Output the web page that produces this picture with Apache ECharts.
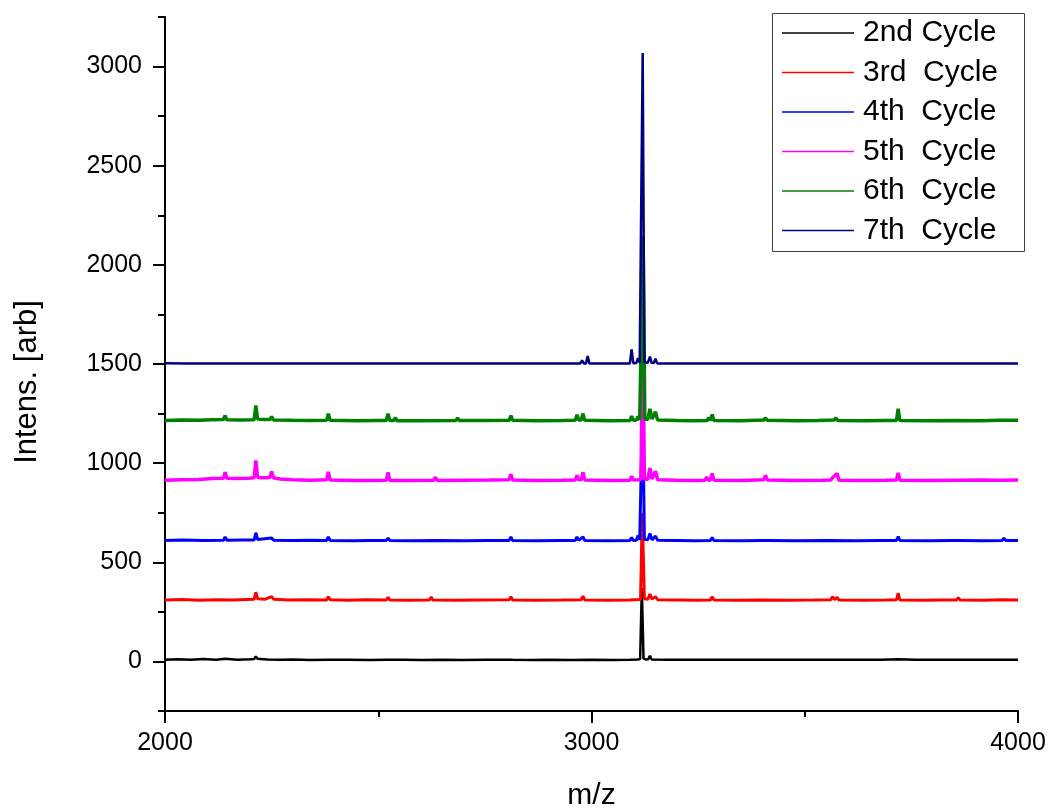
<!DOCTYPE html>
<html>
<head>
<meta charset="utf-8">
<script src="https://cdn.jsdelivr.net/npm/echarts@6/dist/echarts.min.js"></script>
<style>
html,body{margin:0;padding:0;background:#fff;}
#chart{width:1049px;height:810px;}
</style>
</head>
<body>
<div id="chart"></div>
<script>
// Series names (legend labels)
const seriesNames = ['2nd Cycle', '3rd  Cycle', '4th  Cycle', '5th  Cycle', '6th  Cycle', '7th  Cycle'];
// Vertical offset of each stacked spectrum (arb)
const offsets = [0, 300, 600, 900, 1200, 1500];
const colors = ['#000000', '#ff0000', '#0000ff', '#ff00ff', '#008000', '#000080'];

// Raw spectra: [m/z, intensity]
const cycle2 = [[2000,9],[2030,11],[2060,8],[2090,12],[2120,9],[2141,13],[2170,9],[2200,11],[2209,12],[2213,25],[2217,13],[2240,10],[2270,8],[2300,10],[2340,7],[2379,9],[2383,14],[2387,8],[2430,9],[2480,7],[2520,9],[2560,8],[2600,7],[2650,9],[2700,7],[2750,8],[2807,9],[2811,14],[2815,8],[2860,7],[2900,8],[2950,7],[3000,8],[3050,7],[3090,8],[3108,10],[3114,12],[3118,370],[3122,14],[3128,10],[3133,11],[3137,28],[3141,10],[3180,8],[3230,9],[3280,8],[3330,9],[3380,8],[3430,9],[3480,8],[3530,9],[3580,8],[3630,9],[3680,8],[3719,11],[3760,8],[3810,9],[3860,8],[3910,9],[3960,8],[4000,9]];

const cycle3 = [[2000,10],[2040,12],[2080,9],[2120,11],[2160,10],[2190,12],[2209,13],[2213,49],[2217,16],[2235,14],[2250,27],[2255,13],[2290,10],[2330,11],[2379,10],[2383,27],[2387,11],[2430,9],[2470,11],[2519,10],[2523,23],[2527,10],[2570,9],[2620,10],[2624,25],[2628,10],[2680,9],[2740,10],[2807,11],[2811,27],[2815,10],[2870,9],[2930,10],[2976,11],[2980,30],[2984,10],[3040,9],[3090,10],[3110,12],[3115,14],[3119,450],[3124,16],[3132,13],[3137,40],[3142,14],[3150,27],[3155,11],[3200,10],[3250,9],[3279,10],[3283,27],[3287,10],[3340,9],[3400,10],[3460,9],[3520,10],[3561,11],[3565,27],[3570,12],[3576,23],[3580,10],[3640,9],[3690,10],[3715,11],[3719,44],[3723,10],[3780,9],[3820,10],[3856,10],[3860,22],[3864,10],[3920,9],[3960,11],[4000,10]];

const cycle4 = [[2000,10],[2040,12],[2090,10],[2137,11],[2141,28],[2145,11],[2180,12],[2209,12],[2213,49],[2217,15],[2250,22],[2255,11],[2300,10],[2340,11],[2379,10],[2383,28],[2387,10],[2440,9],[2480,10],[2519,10],[2523,22],[2527,10],[2580,9],[2640,10],[2700,9],[2760,10],[2807,10],[2811,28],[2815,10],[2870,9],[2930,10],[2962,10],[2966,28],[2970,11],[2980,28],[2984,10],[3040,9],[3090,10],[3094,25],[3098,10],[3105,11],[3109,35],[3113,12],[3116,14],[3120,706],[3124,16],[3132,13],[3137,45],[3142,13],[3150,32],[3155,11],[3200,10],[3240,9],[3279,10],[3283,25],[3287,10],[3350,9],[3404,10],[3408,18],[3412,10],[3480,9],[3550,10],[3620,9],[3680,10],[3715,10],[3719,30],[3723,10],[3790,9],[3850,10],[3854,20],[3858,10],[3920,9],[3963,10],[3967,22],[3971,10],[4000,10]];

const cycle5 = [[2000,14],[2040,16],[2080,18],[2110,22],[2137,24],[2141,54],[2145,24],[2170,22],[2195,24],[2209,26],[2213,114],[2217,28],[2235,26],[2246,28],[2250,58],[2254,26],[2270,20],[2300,16],[2340,14],[2379,16],[2383,56],[2387,15],[2440,12],[2480,13],[2519,14],[2523,54],[2527,13],[2580,12],[2630,14],[2634,29],[2638,13],[2700,14],[2760,15],[2807,16],[2811,44],[2815,15],[2870,13],[2930,14],[2962,15],[2966,39],[2970,16],[2976,17],[2980,54],[2984,15],[3040,13],[3090,14],[3094,34],[3098,15],[3110,16],[3116,18],[3120,800],[3124,20],[3132,18],[3137,75],[3142,20],[3146,18],[3150,59],[3155,16],[3200,14],[3240,13],[3266,14],[3270,29],[3274,14],[3279,15],[3283,48],[3287,14],[3350,13],[3404,16],[3408,38],[3412,15],[3480,13],[3540,14],[3561,15],[3565,26],[3569,16],[3576,48],[3580,14],[3640,13],[3690,14],[3715,15],[3719,51],[3723,14],[3790,13],[3850,14],[3910,15],[3956,14],[3960,24],[3964,14],[4000,15]];

const cycle6 = [[2000,15],[2040,17],[2080,16],[2110,19],[2137,20],[2141,40],[2145,19],[2180,18],[2209,19],[2213,91],[2217,22],[2235,20],[2246,20],[2250,35],[2254,18],[2300,16],[2340,15],[2379,16],[2383,50],[2387,16],[2450,14],[2500,15],[2519,15],[2523,50],[2527,15],[2536,15],[2540,30],[2544,14],[2600,14],[2682,15],[2686,27],[2690,15],[2750,15],[2807,16],[2811,40],[2815,16],[2870,14],[2930,15],[2962,16],[2966,44],[2970,18],[2976,18],[2980,50],[2984,16],[3040,14],[3090,15],[3094,37],[3098,16],[3105,17],[3109,35],[3113,18],[3117,20],[3121,945],[3125,22],[3132,20],[3137,74],[3142,22],[3146,20],[3150,59],[3155,17],[3200,15],[3240,14],[3271,15],[3275,30],[3279,16],[3283,45],[3287,15],[3350,14],[3404,17],[3408,28],[3412,16],[3480,14],[3530,15],[3569,17],[3573,28],[3577,15],[3640,14],[3690,15],[3715,15],[3719,74],[3723,15],[3790,14],[3850,15],[3910,14],[3960,16],[4000,16]];

const cycle7 = [[2000,4],[2050,3],[2100,2],[2150,3],[2200,2],[2300,2],[2400,3],[2500,2],[2547,2],[2551,12],[2555,2],[2650,2],[2750,3],[2850,2],[2930,2],[2974,3],[2978,19],[2982,3],[2987,3],[2991,40],[2995,3],[3050,2],[3090,3],[3094,73],[3098,4],[3105,5],[3109,30],[3113,6],[3116,8],[3120,1569],[3124,10],[3132,6],[3137,37],[3141,6],[3146,5],[3150,27],[3154,3],[3200,2],[3279,2],[3283,10],[3287,2],[3350,2],[3450,3],[3550,2],[3650,2],[3750,3],[3850,2],[3950,2],[4000,2]];

const spectra = [cycle2, cycle3, cycle4, cycle5, cycle6, cycle7];
const lineWidths = [2.5, 3, 3, 3.5, 3.5, 2.5];

// tick labels
const xTickLabels = [2000, 3000, 4000];
const yMajorTicks = [0, 500, 1000, 1500, 2000, 2500, 3000];

const FONT = 'Liberation Sans, Arial, sans-serif';
const chart = echarts.init(document.getElementById('chart'), null, {renderer: 'canvas'});

const series = spectra.map((d, i) => ({
  name: seriesNames[i],
  type: 'line',
  symbol: 'none',
  showSymbol: false,
  sampling: null,
  animation: false,
  color: colors[i],
  lineStyle: {color: colors[i], width: lineWidths[i]},
  data: d.map(p => [p[0], p[1] + offsets[i]])
}));

chart.setOption({
  animation: false,
  backgroundColor: '#ffffff',
  grid: {left: 165, right: 31, top: 17, bottom: 99, containLabel: false, outerBoundsMode: 'none'},
  legend: {
    orient: 'vertical',
    left: 782, top: 18,
    padding: 0,
    icon: 'rect',
    itemWidth: 72, itemHeight: 1.6, itemGap: 9.5,
    data: seriesNames,
    textStyle: {fontSize: 30, lineHeight: 30, color: '#000', fontFamily: FONT, padding: [0, 0, 0, 4]},
    selectedMode: false
  },
  graphic: [{
    type: 'rect', left: 770, top: 11, silent: true,
    shape: {x: 0, y: 0, width: 252, height: 238},
    style: {fill: 'none', stroke: '#404040', lineWidth: 1}
  }, {
    type: 'text', x: 27, y: 382, rotation: Math.PI / 2, silent: true,
    style: {text: 'Intens. [arb]', fontSize: 31, fontFamily: FONT, fill: '#000', align: 'center', verticalAlign: 'middle'}
  }],
  xAxis: {
    type: 'value', min: 2000, max: 4000, interval: 1000,
    name: 'm/z', nameLocation: 'middle', nameGap: 70,
    nameTextStyle: {fontSize: 30, color: '#000', fontFamily: FONT},
    axisLine: {show: true, onZero: false, lineStyle: {color: '#000', width: 2}},
    axisTick: {show: true, length: 12, lineStyle: {color: '#000', width: 2}},
    minorTick: {show: true, splitNumber: 2, length: 6, lineStyle: {color: '#000', width: 2}},
    axisLabel: {fontSize: 25, color: '#000', fontFamily: FONT, margin: 20,
      formatter: v => (xTickLabels.indexOf(v) >= 0 ? String(v) : '')},
    splitLine: {show: false}
  },
  yAxis: [{
    type: 'value', min: -250, max: 3250, interval: 250,
    axisLine: {show: true, onZero: false, lineStyle: {color: '#000', width: 2}},
    axisTick: {show: true, length: 7, lineStyle: {color: '#000', width: 2}},
    axisLabel: {
      fontSize: 25, color: '#000', fontFamily: FONT, margin: 23,
      formatter: v => (yMajorTicks.indexOf(v) >= 0 ? String(v) : '')
    },
    splitLine: {show: false}
  }, {
    type: 'value', min: -250, max: 3250, interval: 250, position: 'left',
    axisLine: {show: false},
    axisTick: {show: true, length: 12, customValues: yMajorTicks, lineStyle: {color: '#000', width: 2}},
    axisLabel: {show: false},
    splitLine: {show: false}
  }],
  series: series
});
</script>
</body>
</html>
